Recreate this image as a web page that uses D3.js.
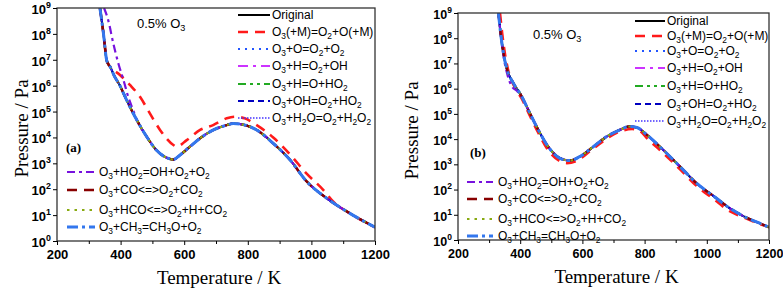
<!DOCTYPE html>
<html>
<head>
<meta charset="utf-8">
<script src="https://cdn.jsdelivr.net/npm/d3@7"></script>
<style>
  body { margin: 0; background: #fff; }
  svg { display: block; }
</style>
</head>
<body>
<div id="container"></div>
<script>
/* DATA (temperature in K, pressure in Pa) */

// panel (a): base curve, shared by most mechanisms
const tMainA = [335, 346, 356, 362, 367, 380, 398, 419, 451, 482, 513, 550, 566, 587, 618, 650, 692, 734, 754, 775, 828, 880, 933, 985, 1048, 1121, 1200];
const pMainA = [1e9, 1.05e8, 9.8e6, 6.6e6, 5.4e6, 2.4e6, 1.0e6, 2.75e5, 4.7e4, 1.07e4, 3.2e3, 1.55e3, 1.4e3, 2.1e3, 4.4e3, 9.3e3, 1.95e4, 3.0e4, 3.45e4, 3.3e4, 1.95e4, 5.9e3, 1.35e3, 200, 45, 11.7, 3.4];
// panel (a): O3(+M)=O2+O(+M)
const tRedA = [335, 346, 356, 362, 367, 398, 430, 461, 492, 524, 566, 576, 608, 650, 691, 734, 760, 790, 828, 880, 933, 985, 1037, 1069, 1121, 1200];
const pRedA = [1e9, 1.05e8, 9.8e6, 6.6e6, 5.4e6, 2.6e6, 1.05e6, 3.7e5, 8.5e4, 1.95e4, 5.1e3, 4.4e3, 7.9e3, 1.95e4, 3.0e4, 5.5e4, 6.3e4, 5.5e4, 3.0e4, 1.0e4, 2.2e3, 400, 95, 33, 11.7, 3.4];
// panel (a): O3+HO2=OH+O2+O2
const tHo2A = [348, 361, 377, 393, 409, 424, 440, 451, 482, 513, 550, 566, 587, 618, 650, 692, 734, 754, 775, 828, 880, 933, 985, 1048, 1121, 1200];
const pHo2A = [1e9, 3.4e8, 4.3e7, 7.2e6, 1.66e6, 3.7e5, 1.1e5, 4.7e4, 1.07e4, 3.2e3, 1.55e3, 1.4e3, 2.1e3, 4.4e3, 9.3e3, 1.95e4, 3.0e4, 3.45e4, 3.3e4, 1.95e4, 5.9e3, 1.35e3, 200, 45, 11.7, 3.4];

// panel (b): base curve
const tMainB = [330, 337, 348, 358, 378, 405, 431, 458, 490, 528, 560, 592, 635, 678, 721, 750, 775, 807, 860, 914, 967, 1021, 1075, 1117, 1182, 1200];
const pMainB = [1e9, 1.6e8, 1.86e7, 5.6e6, 1.66e6, 4.9e5, 1.07e5, 2.35e4, 5.0e3, 1.74e3, 1.41e3, 2.04e3, 5.0e3, 1.26e4, 2.35e4, 3.16e4, 2.9e4, 1.48e4, 3.7e3, 810, 178, 56, 17.8, 8.9, 4.0, 3.2];
// panel (b): O3(+M)=O2+O(+M)
const tRedB = [335, 342, 352, 362, 380, 405, 431, 458, 490, 525, 550, 580, 620, 665, 720, 760, 785, 807, 860, 914, 967, 1021, 1075, 1117, 1182, 1200];
const pRedB = [1e9, 1.6e8, 2.0e7, 5.0e6, 1.3e6, 4.0e5, 8.5e4, 1.8e4, 3.6e3, 1.4e3, 1.12e3, 1.35e3, 3.0e3, 8.0e3, 2.0e4, 2.5e4, 2.1e4, 1.1e4, 2.8e3, 630, 140, 43, 13.5, 8.0, 3.8, 3.2];
// panel (b): O3+HO2=OH+O2+O2
const tHo2B = [330, 337, 348, 360, 372, 390, 405, 431, 458, 490, 528, 560, 592, 635, 678, 721, 750, 775, 807, 860, 914, 967, 1021, 1075, 1117, 1182, 1200];
const pHo2B = [1e9, 1.6e8, 1.5e7, 3.2e6, 1.3e6, 8.0e5, 4.6e5, 1.07e5, 2.35e4, 5.0e3, 1.74e3, 1.41e3, 2.04e3, 5.0e3, 1.26e4, 2.35e4, 3.16e4, 2.9e4, 1.48e4, 3.7e3, 810, 178, 56, 17.8, 8.9, 4.0, 3.2];

// legend labels ("_x" = subscript x)
const seriesNames = [
  "Original",
  "O_3(+M)=O_2+O(+M)",
  "O_3+O=O_2+O_2",
  "O_3+H=O_2+OH",
  "O_3+H=O+HO_2",
  "O_3+OH=O_2+HO_2",
  "O_3+H_2O=O_2+H_2O_2",
  "O_3+HO_2=OH+O_2+O_2",
  "O_3+CO<=>O_2+CO_2",
  "O_3+HCO<=>O_2+H+CO_2",
  "O_3+CH_3=CH_3O+O_2"
];
// which curve each series follows: main, red or ho2
const seriesCurve = ["main", "red", "main", "main", "main", "main", "main", "ho2", "main", "main", "main"];

const xTicks = [200, 400, 600, 800, 1000, 1200];
const xMinor = [300, 500, 700, 900, 1100];
const yTicks = [1, 1e1, 1e2, 1e3, 1e4, 1e5, 1e6, 1e7, 1e8, 1e9];

/* STYLES */
const styles = [
  { color: "#000000", dash: null, w: 2 },
  { color: "#ff1a1a", dash: "10,7", w: 2.6 },
  { color: "#2255ff", dash: "2,5", w: 2 },
  { color: "#cc33ff", dash: "10,5,3,5", w: 2 },
  { color: "#22aa22", dash: "8,4,3,4,3,4", w: 2 },
  { color: "#0000c0", dash: "6,4", w: 2 },
  { color: "#4433ff", dash: "1.5,1.5", w: 1.5 },
  { color: "#7711dd", dash: "8,4,3,4", w: 2.2 },
  { color: "#880000", dash: "10,7", w: 2.4 },
  { color: "#88aa11", dash: "2.5,5", w: 2.2 },
  { color: "#3377ee", dash: "11,4,3,4", w: 3 }
];

const width = 783, height = 290;
const legendSize = 12;
const svg = d3.select("#container").append("svg")
  .attr("width", width)
  .attr("height", height);

/* write a label with subscripts into a text element */
function richText(text, str, size) {
  const parts = str.split(/(_.)/).filter(s => s.length);
  let low = false;
  parts.forEach(s => {
    if (s[0] === "_") {
      text.append("tspan").attr("dy", low ? 0 : 3).attr("font-size", size * 0.7).text(s[1]);
      low = true;
    } else {
      text.append("tspan").attr("dy", low ? -3 : 0).attr("font-size", size).text(s);
      low = false;
    }
  });
}

function drawPanel(p) {
  const x = d3.scaleLinear().domain([200, 1200]).range([p.left, p.right]);
  const y = d3.scaleLog().domain([1, 1e9]).range([p.bottom, p.top]);
  const g = svg.append("g");

  const clipId = "clip" + p.id;
  g.append("clipPath").attr("id", clipId)
    .append("rect")
    .attr("x", p.left).attr("y", p.top)
    .attr("width", p.right - p.left).attr("height", p.bottom - p.top);

  const curves = {
    main: p.tMain.map((t, i) => [t, p.pMain[i]]),
    red: p.tRed.map((t, i) => [t, p.pRed[i]]),
    ho2: p.tHo2.map((t, i) => [t, p.pHo2[i]])
  };
  const line = d3.line()
    .x(d => x(d[0]))
    .y(d => y(d[1]))
    .curve(d3.curveMonotoneX);

  const plot = g.append("g").attr("clip-path", `url(#${clipId})`);
  seriesNames.forEach((name, i) => {
    plot.append("path")
      .attr("d", line(curves[seriesCurve[i]]))
      .attr("fill", "none")
      .attr("stroke", styles[i].color)
      .attr("stroke-width", styles[i].w)
      .attr("stroke-dasharray", styles[i].dash);
  });

  // frame
  g.append("rect")
    .attr("x", p.left).attr("y", p.top)
    .attr("width", p.right - p.left).attr("height", p.bottom - p.top)
    .attr("fill", "none").attr("stroke", "#333").attr("stroke-width", 1.3);

  // x axis
  const xAxis = g.append("g")
    .attr("transform", `translate(0,${p.bottom})`)
    .call(d3.axisBottom(x).tickValues(xTicks).tickFormat(d3.format("d")).tickSize(4).tickPadding(5));
  xAxis.select(".domain").remove();
  xAxis.selectAll("text")
    .style("font-family", "'Liberation Sans', Arial, sans-serif")
    .style("font-weight", "bold")
    .style("font-size", p.tickSize + "px")
    .attr("fill", "#000");
  g.append("g")
    .attr("transform", `translate(0,${p.bottom})`)
    .call(d3.axisBottom(x).tickValues(xMinor).tickSize(3).tickFormat(""))
    .select(".domain").remove();

  // y axis
  const yAxis = g.append("g")
    .attr("transform", `translate(${p.left},0)`)
    .call(d3.axisLeft(y).tickValues(yTicks).tickSize(4).tickFormat(""));
  yAxis.select(".domain").remove();
  yAxis.selectAll(".tick").append("text")
    .attr("x", -6)
    .attr("dy", "0.42em")
    .attr("text-anchor", "end")
    .attr("fill", "#000")
    .style("font-family", "'Liberation Sans', Arial, sans-serif")
    .style("font-weight", "bold")
    .style("font-size", p.tickSize + "px")
    .each(function(d) {
      const t = d3.select(this);
      t.append("tspan").text("10");
      t.append("tspan").attr("dy", -6).style("font-size", (p.tickSize * 0.68) + "px").text(Math.round(Math.log10(d)));
    });

  // axis titles
  g.append("text")
    .attr("transform", `translate(${p.yTitleX},${(p.top + p.bottom) / 2 + 4}) rotate(-90)`)
    .attr("text-anchor", "middle")
    .attr("font-family", "Liberation Serif, Times New Roman, serif")
    .attr("font-size", 19)
    .text("Pressure / Pa");
  g.append("text")
    .attr("x", (p.left + p.right) / 2 + 3)
    .attr("y", p.xTitleY)
    .attr("text-anchor", "middle")
    .attr("font-family", "Liberation Serif, Times New Roman, serif")
    .attr("font-size", 19)
    .text("Temperature / K");

  // annotations
  const note = g.append("text")
    .attr("x", p.noteX).attr("y", p.noteY)
    .attr("font-family", "Liberation Sans, Arial, sans-serif");
  richText(note, "0.5% O_3", 13);
  g.append("text")
    .attr("x", p.tagX).attr("y", p.tagY)
    .attr("font-family", "Liberation Serif, Times New Roman, serif")
    .attr("font-weight", "bold")
    .attr("font-size", 13)
    .text(p.tag);

  // legends
  const leg = g.append("g").attr("font-family", "Liberation Sans, Arial, sans-serif");
  seriesNames.forEach((name, i) => {
    const upper = i < 7;
    const ly = upper ? p.legUpY[i] : p.legLowY[i - 7];
    const lx0 = upper ? p.legUpX[0] : p.legLowX[0];
    const lx1 = upper ? p.legUpX[1] : p.legLowX[1];
    const tx = upper ? p.legUpX[2] : p.legLowX[2];
    leg.append("line")
      .attr("x1", lx0).attr("x2", lx1)
      .attr("y1", ly).attr("y2", ly)
      .attr("stroke", styles[i].color)
      .attr("stroke-width", styles[i].w)
      .attr("stroke-dasharray", styles[i].dash);
    const t = leg.append("text").attr("x", tx).attr("y", ly + 4);
    richText(t, name, legendSize);
  });
}

drawPanel({
  id: "a", tag: "(a)", left: 57, right: 375, top: 8, bottom: 241,
  tMain: tMainA, pMain: pMainA, tRed: tRedA, pRed: pRedA, tHo2: tHo2A, pHo2: pHo2A,
  tickSize: 13, yTitleX: 28, xTitleY: 284,
  noteX: 137, noteY: 28, tagX: 66, tagY: 152,
  legUpY: [15, 32, 49, 66, 84, 101, 118], legUpX: [238, 270, 272],
  legLowY: [172, 190, 210, 227], legLowX: [67, 95, 99]
});

drawPanel({
  id: "b", tag: "(b)", left: 458, right: 769, top: 13, bottom: 240,
  tMain: tMainB, pMain: pMainB, tRed: tRedB, pRed: pRedB, tHo2: tHo2B, pHo2: pHo2B,
  tickSize: 12.5, yTitleX: 418, xTitleY: 283,
  noteX: 533, noteY: 39, tagX: 470, tagY: 157,
  legUpY: [21, 36, 51, 68, 86, 104, 121], legUpX: [635, 665, 667],
  legLowY: [182, 199, 219, 236], legLowX: [467, 493, 498]
});
</script>
</body>
</html>
